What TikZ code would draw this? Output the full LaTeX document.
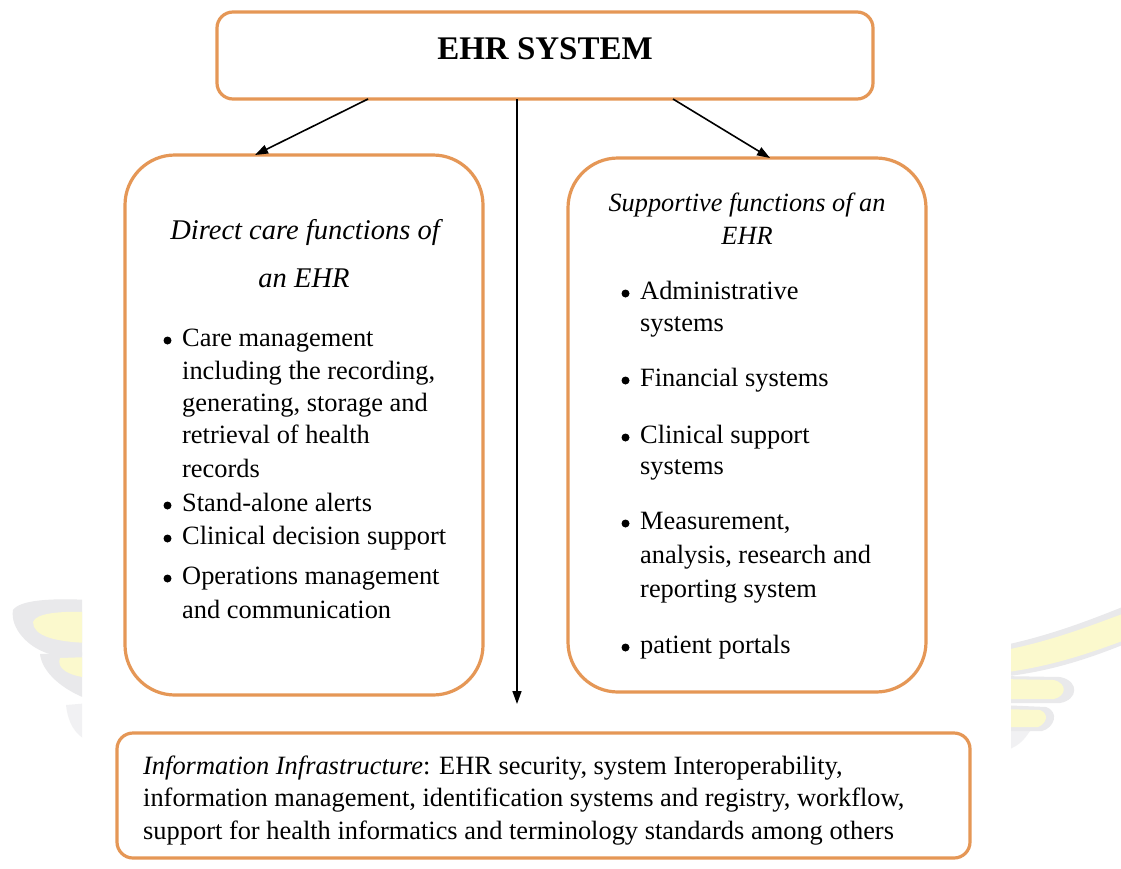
\documentclass[tikz,border=0pt]{standalone}
\usepackage{fontspec}
\setmainfont{Liberation Serif}
\usetikzlibrary{arrows.meta,calc}

\definecolor{boxorange}{RGB}{229,151,86}
\definecolor{wingyellow}{RGB}{251,249,205}
\definecolor{winggray}{RGB}{233,233,235}

\begin{document}
\begin{tikzpicture}[x=1pt,y=-1pt,
  box/.style={draw=boxorange, line width=3.2pt, fill=white, inner sep=0pt, outer sep=0pt},
  smallbox/.style={box, rounded corners=16pt},
  bigbox/.style={box, rounded corners=50pt},
  body/.style={font=\fontsize{26.4}{32.5}\selectfont, anchor=base west, inner sep=0pt},
  head/.style={font=\fontsize{28.5}{34}\selectfont\itshape, anchor=base, inner sep=0pt},
  headsmall/.style={font=\fontsize{26.3}{32}\selectfont\itshape, anchor=base, inner sep=0pt},
  title/.style={font=\fontsize{33}{40}\selectfont\bfseries, anchor=base, inner sep=0pt},
  link/.style={line width=1.6pt, -{Triangle[length=13pt,width=9pt]}},
  wingfill/.style={fill=wingyellow},
  wingedge/.style={fill=winggray}
]
\useasboundingbox (0,0) rectangle (1121,868);
\fill[white] (0,0) rectangle (1121,868);

% faint wing emblem behind the figure, left side
\begin{scope}
  \clip (0,560) rectangle (82,800);
  \fill[wingedge] (90,600) .. controls (50,598) and (20,600) .. (13,610)
        .. controls (10,628) and (28,648) .. (50,654) -- (90,656) -- cycle;
  \fill[wingfill] (90,612) .. controls (60,611) and (36,613) .. (33,622)
        .. controls (33,636) and (55,642) .. (90,643) -- cycle;
  \fill[wingedge] (90,652) -- (40,654) .. controls (42,672) and (62,690) .. (90,700) -- cycle;
  \fill[wingfill] (90,657) -- (60,658) .. controls (56,668) and (68,676) .. (90,678) -- cycle;
  \fill[wingedge, opacity=0.6] (90,703) -- (66,705) .. controls (68,722) and (74,735) .. (90,742) -- cycle;
\end{scope}

% faint wing emblem behind the figure, right side
\begin{scope}
  \clip (1011,560) rectangle (1121,800);
  \fill[wingedge] (1000,646) .. controls (1050,636) and (1095,618) .. (1125,606)
        -- (1125,644) .. controls (1090,658) and (1050,672) .. (1000,677) -- cycle;
  \fill[wingfill] (1000,651) .. controls (1050,642) and (1095,624) .. (1125,613)
        -- (1125,640) .. controls (1090,653) and (1050,667) .. (1000,673) -- cycle;
  \fill[wingedge] (1000,676) -- (1060,677) .. controls (1080,681) and (1078,700) .. (1060,703)
        -- (1000,703) -- cycle;
  \fill[wingfill] (1000,679) -- (1054,680) .. controls (1068,684) and (1066,696) .. (1054,699)
        -- (1000,699) -- cycle;
  \fill[wingedge] (1000,705) -- (1046,707) .. controls (1060,712) and (1054,728) .. (1042,731)
        -- (1000,731) -- cycle;
  \fill[wingfill] (1000,709) -- (1040,710) .. controls (1050,714) and (1046,724) .. (1038,727)
        -- (1000,727) -- cycle;
  \fill[wingedge, opacity=0.6] (1000,731) -- (1030,731) .. controls (1024,740) and (1018,748) .. (1000,752) -- cycle;
\end{scope}

% boxes
\node[smallbox, minimum width=656pt, minimum height=87pt] (top) at (545,55.5) {};
\node[bigbox, minimum width=358pt, minimum height=540pt] (direct) at (304,425) {};
\node[bigbox, minimum width=358pt, minimum height=534pt] (support) at (747,425) {};
\node[smallbox, minimum width=853pt, minimum height=125pt] (infra) at (543.5,795.5) {};

% title
\node[title] (ttl) at (545,59) {EHR SYSTEM};

% connectors
\draw[link] ($(top.south west)+(151,0)$) -- ($(direct.north west)+(130,0)$);
\draw[link] ($(top.south west)+(456,0)$) -- ($(support.north west)+(202,0)$);
\coordinate (midtip) at (517,704);
\draw[link] ($(top.south west)+(300,0)$) -- (midtip);

% direct care functions
\node[head] (dh1) at (305,239) {Direct care functions of};
\node[head] (dh2) at (304,287) {an EHR};
\node[body] (d1a) at (182,346) {Care management};
\node[body] (d1b) at (182,379) {including the recording,};
\node[body] (d1c) at (182,411) {generating, storage and};
\node[body] (d1d) at (182,443) {retrieval of health};
\node[body] (d1e) at (182,477) {records};
\node[body] (d2)  at (182,511) {Stand-alone alerts};
\node[body] (d3)  at (182,544) {Clinical decision support};
\node[body] (d4a) at (182,584) {Operations management};
\node[body] (d4b) at (182,618) {and communication};

% supportive functions
\node[headsmall] (sh1) at (747,211) {Supportive functions of an};
\node[headsmall] (sh2) at (747,244) {EHR};
\node[body] (s1a) at (640,299) {Administrative};
\node[body] (s1b) at (640,331) {systems};
\node[body] (s2)  at (640,386) {Financial systems};
\node[body] (s3a) at (640,443) {Clinical support};
\node[body] (s3b) at (640,474) {systems};
\node[body] (s4a) at (640,529) {Measurement,};
\node[body] (s4b) at (640,563) {analysis, research and};
\node[body] (s4c) at (640,597) {reporting system};
\node[body] (s5)  at (640,653) {patient portals};

% bullets in front of each list item
\foreach \n in {d1a,d2,d3,d4a,s1a,s2,s3a,s4a,s5}
  \fill ($(\n.base west)+(-14.5,-5.5)$) circle (4pt);

% information infrastructure
\node[body] (i1) at (143,774) {\textit{Information Infrastructure}: EHR security, system Interoperability,};
\node[body] (i2) at (143,806) {information management, identification systems and registry, workflow,};
\node[body] (i3) at (143,839) {support for health informatics and terminology standards among others};
\end{tikzpicture}
\end{document}
